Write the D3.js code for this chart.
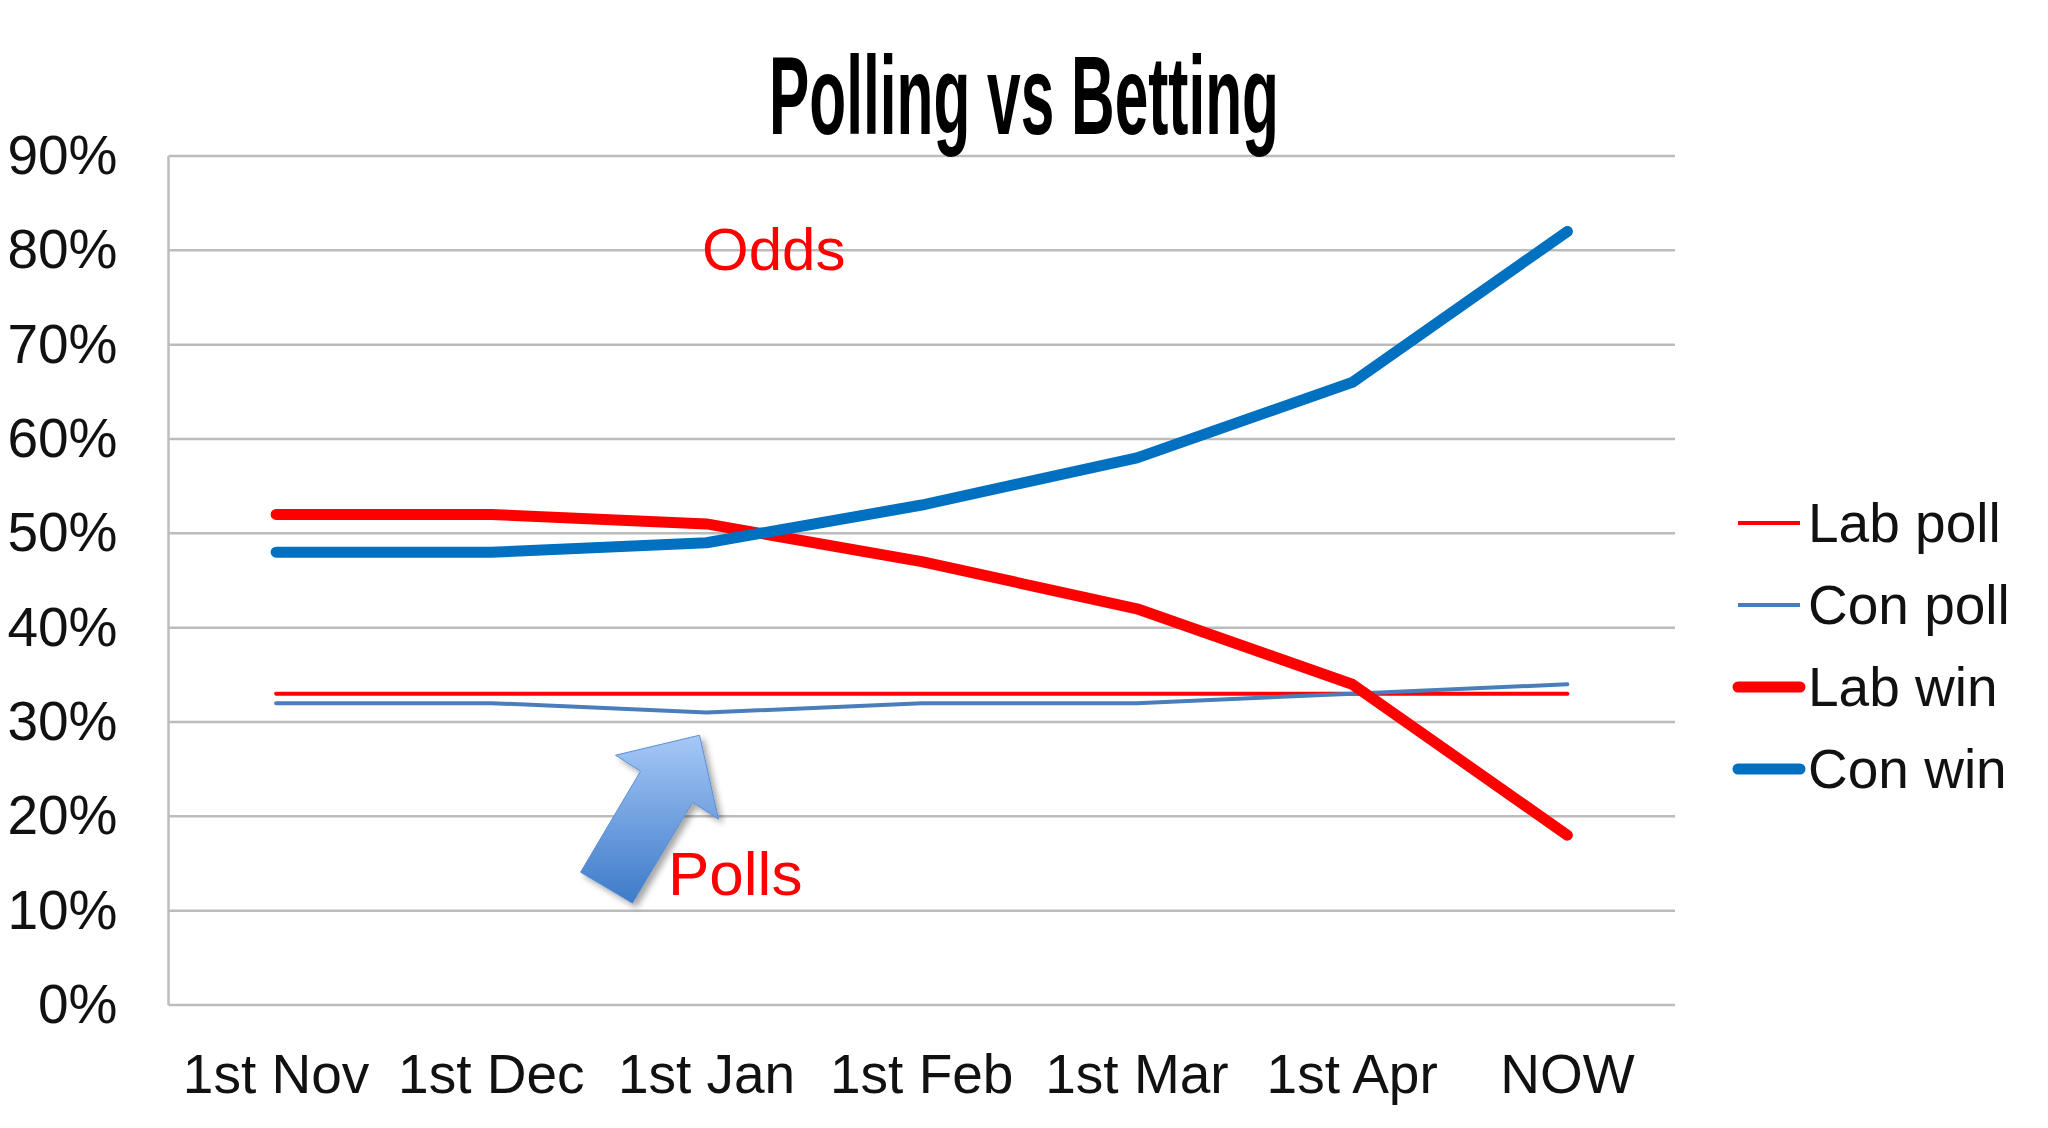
<!DOCTYPE html>
<html>
<head>
<meta charset="utf-8">
<script src="https://cdn.jsdelivr.net/npm/d3@7"></script>
<style>
  html, body { margin: 0; padding: 0; background: #fff; }
  svg { display: block; font-family: "Liberation Sans", Arial, sans-serif; }
</style>
</head>
<body>
<svg id="chart" width="2048" height="1128"></svg>
<script>
// ---- data ----
const categories = ["1st Nov", "1st Dec", "1st Jan", "1st Feb", "1st Mar", "1st Apr", "NOW"];
const labPoll = [33, 33, 33, 33, 33, 33, 33];
const conPoll = [32, 32, 31, 32, 32, 33, 34];
const labWin  = [52, 52, 51, 47, 42, 34, 18];
const conWin  = [48, 48, 49, 53, 58, 66, 82];
const yTicks = [0, 10, 20, 30, 40, 50, 60, 70, 80, 90];
const seriesNames = ["Lab poll", "Con poll", "Lab win", "Con win"];
const titleText = "Polling vs Betting";

const series = [
  { name: seriesNames[0], values: labPoll, color: "#ff0000", width: 4 },
  { name: seriesNames[1], values: conPoll, color: "#4a7ebb", width: 4 },
  { name: seriesNames[2], values: labWin,  color: "#ff0000", width: 11 },
  { name: seriesNames[3], values: conWin,  color: "#0070c0", width: 11 }
];

const svg = d3.select("#chart");
const plot = { left: 168.5, right: 1675, top: 156, bottom: 1005 };

const x = d3.scaleBand().domain(categories).range([plot.left, plot.right]).padding(0);
const y = d3.scaleLinear().domain([0, 90]).range([plot.bottom, plot.top]);
const cx = d => x(d) + x.bandwidth() / 2;

// gridlines
svg.append("g").selectAll("line").data(yTicks).join("line")
  .attr("x1", plot.left).attr("x2", plot.right)
  .attr("y1", d => y(d)).attr("y2", d => y(d))
  .attr("stroke", "#bcbcbc").attr("stroke-width", 2.5);

// left axis line
svg.append("line")
  .attr("x1", plot.left).attr("x2", plot.left)
  .attr("y1", y(90)).attr("y2", y(0))
  .attr("stroke", "#bcbcbc").attr("stroke-width", 2.5);

// y axis labels
const yAxis = d3.axisLeft(y).tickValues(yTicks).tickFormat(d => d + "%").tickSize(0).tickPadding(50);
const yg = svg.append("g").attr("transform", `translate(${plot.left},0)`).call(yAxis);
yg.select(".domain").remove();
yg.selectAll("text").attr("font-size", 55).attr("fill", "#111")
  .attr("font-family", "Liberation Sans, Arial, sans-serif")
  .attr("x", -51);

// x axis labels
const xAxis = d3.axisBottom(x).tickSize(0).tickPadding(0);
const xg = svg.append("g").attr("transform", `translate(0,${plot.bottom})`).call(xAxis);
xg.select(".domain").remove();
xg.selectAll("text").attr("font-size", 55).attr("fill", "#111")
  .attr("font-family", "Liberation Sans, Arial, sans-serif")
  .attr("dy", null).attr("y", 88);

// lines
const line = d3.line().x((d, i) => cx(categories[i])).y(d => y(d)).curve(d3.curveLinear);
svg.append("g").selectAll("path").data(series).join("path")
  .attr("d", d => line(d.values))
  .attr("fill", "none")
  .attr("stroke", d => d.color)
  .attr("stroke-width", d => d.width)
  .attr("stroke-linejoin", "round")
  .attr("stroke-linecap", "round");

// legend
const legendY = [523, 605, 687, 769];
const lg = svg.append("g").selectAll("g").data(series).join("g")
  .attr("transform", (d, i) => `translate(1738,${legendY[i]})`);
lg.append("line").attr("x1", 0).attr("x2", 62)
  .attr("stroke", d => d.color).attr("stroke-width", d => d.width)
  .attr("stroke-linecap", d => d.width > 5 ? "round" : "butt");
lg.append("text").attr("x", 70).attr("dy", "0.35em")
  .attr("font-size", 55).attr("fill", "#111").text(d => d.name);

// title
svg.append("text")
  .attr("x", 1024).attr("y", 134)
  .attr("text-anchor", "middle")
  .attr("font-size", 112).attr("font-weight", "bold")
  .attr("textLength", 510).attr("lengthAdjust", "spacingAndGlyphs")
  .attr("fill", "#000")
  .text(titleText);

// annotations
svg.append("text").attr("x", 702).attr("y", 270)
  .attr("font-size", 60).attr("fill", "#ff0000").text("Odds");
svg.append("text").attr("x", 668).attr("y", 895)
  .attr("font-size", 62).attr("fill", "#ff0000").text("Polls");

// arrow (block arrow pointing at Jan polls)
const defs = svg.append("defs");
const grad = defs.append("linearGradient").attr("id", "arrowGrad")
  .attr("x1", "0").attr("y1", "0").attr("x2", "0").attr("y2", "1");
grad.append("stop").attr("offset", "0%").attr("stop-color", "#a6c8f7");
grad.append("stop").attr("offset", "100%").attr("stop-color", "#3d7ac8");
const flt = defs.append("filter").attr("id", "shadow").attr("x", "-20%").attr("y", "-20%").attr("width", "150%").attr("height", "150%");
flt.append("feDropShadow").attr("dx", 4).attr("dy", 4).attr("stdDeviation", 3).attr("flood-color", "#000").attr("flood-opacity", 0.35);

const tipX = cx("1st Jan") - 7, tipY = y(28.6);
const arrowShape = [[0, 0], [19, 84], [-7, 67], [-67, 168], [-119, 137], [-59, 36], [-84, 20]];
svg.append("polygon")
  .attr("points", arrowShape.map(p => [tipX + p[0], tipY + p[1]].join(",")).join(" "))
  .attr("fill", "url(#arrowGrad)")
  .attr("stroke", "#5a8fd6").attr("stroke-width", 1)
  .attr("filter", "url(#shadow)");
</script>
</body>
</html>
